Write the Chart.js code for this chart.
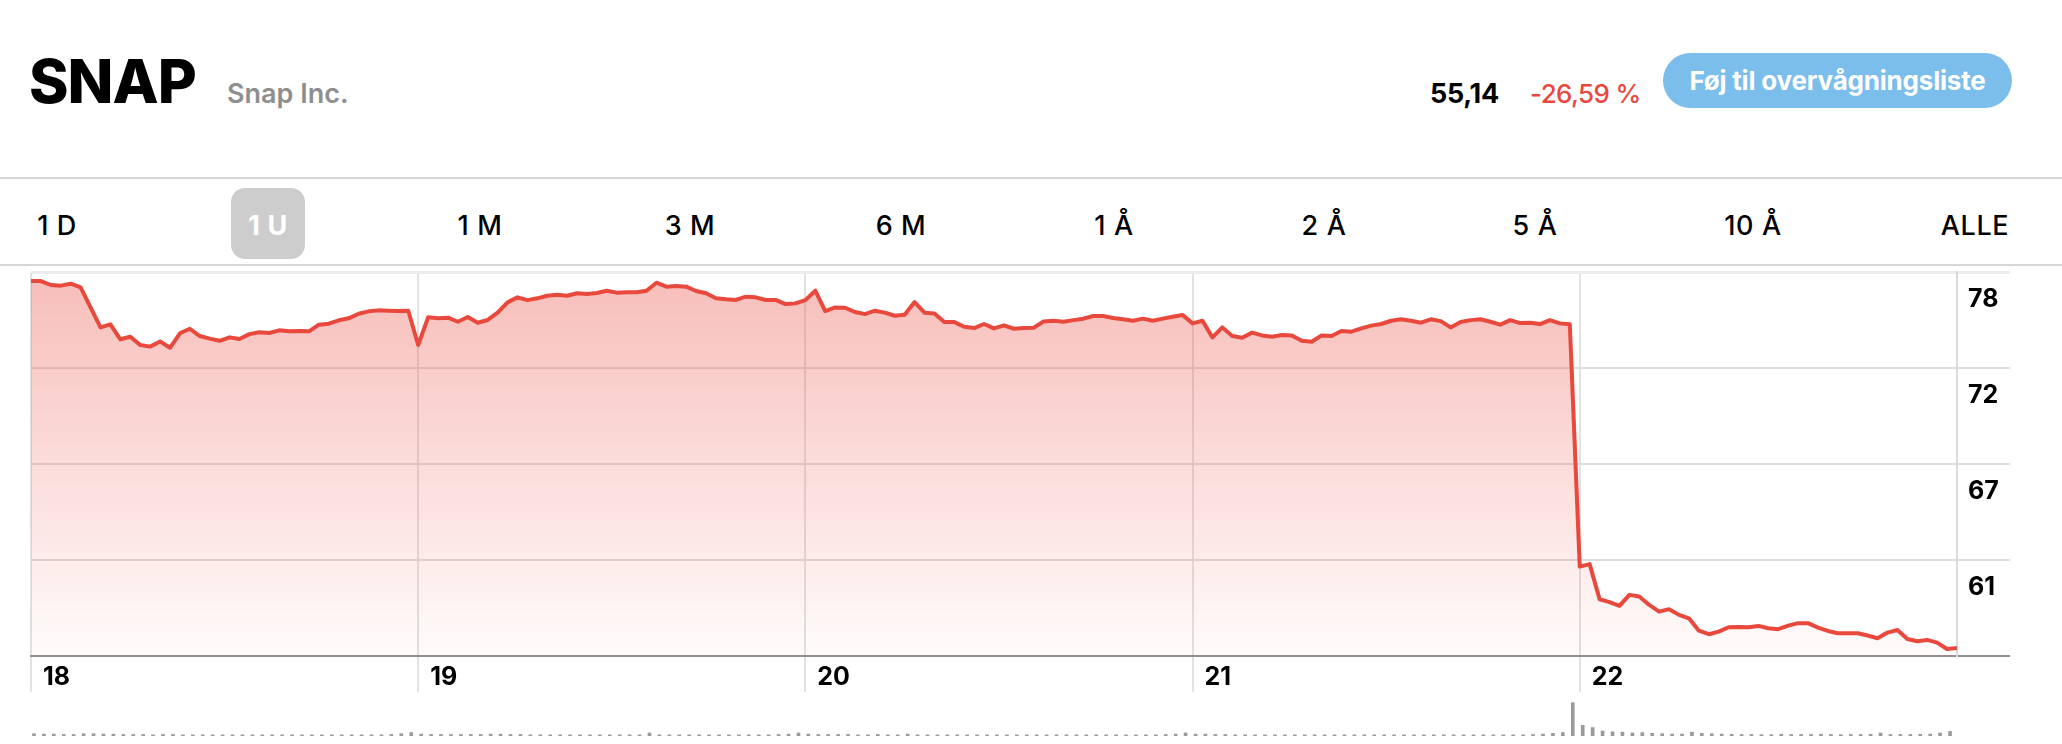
<!DOCTYPE html>
<html>
<head>
  <meta charset="utf-8">
  <title>SNAP</title>
  <style>
    body {
      margin: 0;
      width: 2062px;
      height: 744px;
      overflow: hidden;
      position: relative;
      background: #fff;
      color: #000;
      font-family: Inter, 'Noto Sans', sans-serif;
    }
    .abs { position: absolute; white-space: nowrap; }

    /* Header */
    .ticker { left: 29px; top: 51px; font-size: 60px; line-height: 60px; font-weight: 800; letter-spacing: -1px; }
    .name { left: 227px; top: 80px; font-size: 27px; line-height: 27px; font-weight: 600; color: #8e8e8e; }
    .price { left: 1430px; top: 80px; font-size: 27px; line-height: 27px; font-weight: 700; letter-spacing: -0.3px; }
    .change { left: 1530px; top: 80px; font-size: 26px; line-height: 27px; font-weight: 500; color: #e9483f; letter-spacing: -0.6px; }
    .watch {
      left: 1663px; top: 53px; width: 349px; height: 55px;
      border-radius: 28px; background: #7bbdeb; color: #fff;
      font-size: 26px; line-height: 55px; font-weight: 700; text-align: center; letter-spacing: -0.2px;
    }
    .rule { left: 0; width: 2062px; height: 2px; background: #d6d6d6; }

    /* Range tabs */
    .tab { top: 212px; font-size: 27px; line-height: 27px; font-weight: 500; letter-spacing: 0.6px; transform: translateX(-50%); }
    .pill { left: 231px; top: 188px; width: 74px; height: 71px; border-radius: 14px; background: #cdcdcd; }
    .tab.on { color: #fff; font-weight: 700; }

    canvas { position: absolute; left: 0; }
  </style>
</head>
<body>

  <div class="abs ticker">SNAP</div>
  <div class="abs name">Snap Inc.</div>
  <div class="abs price">55,14</div>
  <div class="abs change">-26,59 %</div>
  <div class="abs watch">Føj til overvågningsliste</div>

  <div class="abs rule" style="top:177px"></div>
  <div class="abs pill"></div>
  <div class="abs tab" style="left:57px">1 D</div>
  <div class="abs tab on" style="left:268px">1 U</div>
  <div class="abs tab" style="left:480px">1 M</div>
  <div class="abs tab" style="left:690px">3 M</div>
  <div class="abs tab" style="left:901px">6 M</div>
  <div class="abs tab" style="left:1114px">1 Å</div>
  <div class="abs tab" style="left:1324px">2 Å</div>
  <div class="abs tab" style="left:1535px">5 Å</div>
  <div class="abs tab" style="left:1753px">10 Å</div>
  <div class="abs tab" style="left:1975px">ALLE</div>
  <div class="abs rule" style="top:264px"></div>

  <canvas id="priceChart" width="2062" height="440" style="top:262px"></canvas>
  <canvas id="volumeChart" width="2062" height="40" style="top:700px"></canvas>

  <script src="https://cdn.jsdelivr.net/npm/chart.js"></script>

  <script>
    // one week of 10-minute prices, one array per trading day
    const days = ['18', '19', '20', '21', '22'];

    const prices18 = [77.71, 77.71, 77.47, 77.43, 77.55, 77.32, 76.09, 74.86, 75.05, 74.13,
      74.29, 73.78, 73.68, 74.00, 73.61, 74.50, 74.78, 74.33, 74.17, 74.04,
      74.25, 74.15, 74.45, 74.56, 74.52, 74.68, 74.62, 74.64, 74.62, 75.03,
      75.09, 75.30, 75.42, 75.70, 75.85, 75.91, 75.89, 75.87, 75.89];
    const prices19 = [73.78, 75.48, 75.42, 75.46, 75.21, 75.50, 75.15, 75.32, 75.77, 76.40,
      76.71, 76.54, 76.65, 76.81, 76.87, 76.81, 76.96, 76.91, 76.98, 77.12,
      77.00, 77.02, 77.02, 77.12, 77.61, 77.37, 77.41, 77.37, 77.10, 76.96,
      76.65, 76.59, 76.55, 76.75, 76.71, 76.55, 76.55, 76.30, 76.34];
    const prices20 = [76.54, 77.12, 75.87, 76.09, 76.07, 75.81, 75.68, 75.89, 75.77, 75.58,
      75.64, 76.42, 75.77, 75.72, 75.19, 75.19, 74.90, 74.82, 75.07, 74.80,
      74.99, 74.78, 74.82, 74.84, 75.23, 75.27, 75.21, 75.31, 75.40, 75.56,
      75.56, 75.44, 75.36, 75.27, 75.40, 75.27, 75.40, 75.52, 75.62];
    const prices21 = [75.11, 75.27, 74.25, 74.86, 74.33, 74.23, 74.54, 74.37, 74.29, 74.39,
      74.37, 74.04, 73.98, 74.37, 74.33, 74.64, 74.60, 74.80, 74.97, 75.07,
      75.27, 75.36, 75.27, 75.15, 75.36, 75.25, 74.86, 75.19, 75.31, 75.36,
      75.21, 75.03, 75.31, 75.13, 75.15, 75.07, 75.31, 75.11, 75.06];
    const prices22 = [60.15, 60.30, 58.14, 57.96, 57.73, 58.41, 58.31, 57.79, 57.38, 57.53,
      57.18, 56.97, 56.21, 55.99, 56.15, 56.42, 56.44, 56.42, 56.50, 56.36,
      56.30, 56.52, 56.67, 56.67, 56.40, 56.19, 56.05, 56.05, 56.05, 55.91,
      55.74, 56.09, 56.25, 55.70, 55.56, 55.64, 55.47, 55.08, 55.14];

    // traded volume per 10 minutes (millions)
    const volume18 = [1.2, 0.6, 0.5, 0.5, 0.4, 0.4, 0.6, 0.6, 0.5, 0.5, 0.4, 0.4, 0.4, 0.3, 0.4, 0.4, 0.3, 0.3, 0.3, 0.3,
      0.3, 0.3, 0.3, 0.3, 0.3, 0.3, 0.3, 0.3, 0.3, 0.3, 0.3, 0.3, 0.3, 0.3, 0.3, 0.3, 0.3, 0.4, 0.6];
    const volume19 = [0.9, 0.5, 0.4, 0.4, 0.4, 0.4, 0.4, 0.4, 0.5, 0.5, 0.4, 0.4, 0.3, 0.3, 0.3, 0.3, 0.3, 0.3, 0.3, 0.3,
      0.3, 0.3, 0.3, 0.3, 0.8, 0.3, 0.3, 0.3, 0.3, 0.3, 0.3, 0.3, 0.3, 0.3, 0.3, 0.3, 0.3, 0.4, 0.5];
    const volume20 = [0.8, 0.5, 0.4, 0.4, 0.4, 0.4, 0.3, 0.3, 0.4, 0.3, 0.3, 0.5, 0.3, 0.3, 0.3, 0.3, 0.3, 0.3, 0.3, 0.3,
      0.3, 0.3, 0.3, 0.3, 0.3, 0.3, 0.3, 0.3, 0.3, 0.3, 0.3, 0.3, 0.3, 0.3, 0.3, 0.3, 0.3, 0.4, 0.5];
    const volume21 = [0.8, 0.5, 0.5, 0.4, 0.4, 0.3, 0.3, 0.3, 0.3, 0.3, 0.3, 0.3, 0.3, 0.3, 0.3, 0.3, 0.3, 0.3, 0.3, 0.3,
      0.3, 0.3, 0.3, 0.3, 0.3, 0.3, 0.3, 0.3, 0.3, 0.3, 0.3, 0.3, 0.3, 0.3, 0.3, 0.4, 0.5, 0.7, 0.9];
    const volume22 = [8.7, 2.8, 2.2, 1.3, 1.1, 1.0, 0.8, 0.9, 0.7, 0.6, 0.5, 0.5, 1.0, 0.7, 0.6, 0.5, 0.45, 0.4, 0.4, 0.35,
      0.35, 0.45, 0.4, 0.4, 0.4, 0.45, 0.4, 0.35, 0.4, 0.4, 0.45, 0.8, 0.4, 0.4, 0.4, 0.45, 0.5, 0.8, 1.2];

    // price axis: bottom to top
    const yMin = 54.65;
    const yMax = 78.27;
    const yTickLabels = ['', '61', '67', '72', '78'];

    const prices = [].concat(prices18, prices19, prices20, prices21, prices22);
    const volumes = [].concat(volume18, volume19, volume20, volume21, volume22);
    const perDay = prices18.length;
    const dayStarts = days.map((_, i) => i * perDay);
    const lastIndex = prices.length - 1;

    Chart.defaults.font.family = 'Inter, sans-serif';
    Chart.defaults.color = '#000';

    const red = '#e9483c';

    new Chart(document.getElementById('priceChart'), {
      type: 'line',
      data: {
        datasets: [{
          data: prices.map((p, i) => ({ x: i, y: p })),
          borderColor: red,
          borderWidth: 4,
          borderJoinStyle: 'round',
          pointRadius: 0,
          tension: 0,
          fill: 'start',
          backgroundColor: (ctx) => {
            const area = ctx.chart.chartArea;
            if (!area) return 'rgba(233,72,60,0.2)';
            const g = ctx.chart.ctx.createLinearGradient(0, area.top, 0, area.bottom);
            g.addColorStop(0, 'rgba(233,72,60,0.36)');
            g.addColorStop(1, 'rgba(233,72,60,0.02)');
            return g;
          }
        }]
      },
      options: {
        responsive: false,
        animation: false,
        layout: { padding: { left: 31, right: 52, top: 10, bottom: 0 } },
        plugins: { legend: { display: false }, tooltip: { enabled: false } },
        scales: {
          x: {
            type: 'linear',
            min: 0,
            max: lastIndex,
            afterBuildTicks: (s) => { s.ticks = dayStarts.map(v => ({ value: v })); },
            afterFit: (s) => { s.height = 46; s.paddingLeft = 0; s.paddingRight = 0; },
            grid: { color: '#e2e2e2', lineWidth: 2, tickLength: 36 },
            border: { color: '#8f8f8f', width: 2 },
            ticks: {
              align: 'start',
              labelOffset: 12,
              padding: -30,
              maxRotation: 0,
              autoSkip: false,
              font: { size: 25, weight: '700' },
              callback: (v, i) => days[i]
            }
          },
          y: {
            position: 'right',
            min: yMin,
            max: yMax,
            afterBuildTicks: (s) => {
              const step = (yMax - yMin) / (yTickLabels.length - 1);
              s.ticks = yTickLabels.map((_, k) => ({ value: yMin + k * step }));
            },
            afterFit: (s) => { s.width = 53; s.paddingTop = 0; s.paddingBottom = 0; },
            grid: {
              tickLength: 53,
              color: (c) => c.index === 0 ? '#8f8f8f' : (c.index === yTickLabels.length - 1 ? '#ececec' : '#dedede'),
              lineWidth: (c) => c.index === yTickLabels.length - 1 ? 3 : 2
            },
            border: { color: '#dadada', width: 2 },
            ticks: {
              padding: -42,
              labelOffset: 27,
              font: { size: 25, weight: '700' },
              callback: (v, i) => yTickLabels[i]
            }
          }
        }
      }
    });

    new Chart(document.getElementById('volumeChart'), {
      type: 'bar',
      data: {
        datasets: [{
          data: volumes.map((v, i) => ({ x: i, y: v })),
          backgroundColor: '#9a9a9a',
          barThickness: 3,
          minBarLength: 1
        }]
      },
      options: {
        responsive: false,
        animation: false,
        layout: { padding: { left: 31, right: 105, top: 0, bottom: 4 } },
        plugins: { legend: { display: false }, tooltip: { enabled: false } },
        scales: {
          x: { type: 'linear', min: 0.7, max: lastIndex + 0.7, offset: false, display: false },
          y: { min: 0, max: 9.4, display: false }
        }
      }
    });
  </script>
</body>
</html>
